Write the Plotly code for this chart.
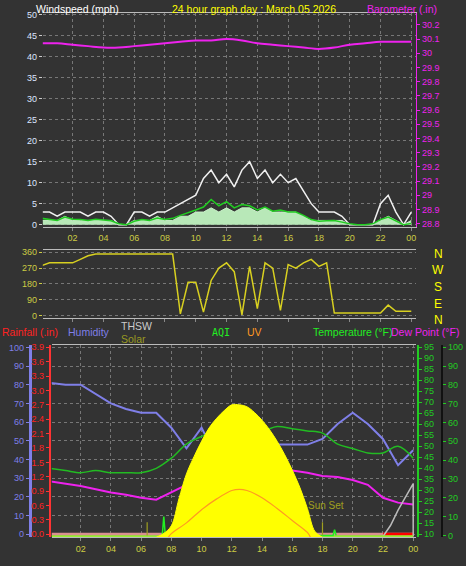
import plotly.graph_objects as go

W, H = 466, 566

# time grids (hours of day)
hours = list(range(25))
half_hours = [h / 2 for h in range(49)]

# barometer (in), hourly
baro = [30.07, 30.07, 30.06, 30.05, 30.04, 30.04, 30.05, 30.06, 30.07, 30.08, 30.09, 30.09,
        30.10, 30.09, 30.07, 30.06, 30.05, 30.04, 30.03, 30.04, 30.06, 30.07, 30.08, 30.08, 30.08]

# wind (mph), half-hourly
gust = [3, 3, 2, 3, 3, 3, 2, 3, 3, 2, 0, 0, 3, 3, 2, 3, 3, 4, 5, 6, 7, 11, 13, 10, 12,
        9, 13, 15, 11, 13, 10, 12, 10, 11, 8, 5, 3, 3, 3, 2, 0, 0, 0, 0, 5, 7, 3, 0, 3]
speed = [1, 1, 1, 2, 1, 1, 1, 1, 1, 1, 0, 0, 1, 1, 1, 2, 1, 1, 2, 2, 3, 3, 4, 3, 4,
         3, 4, 4, 3, 4, 3, 3, 3, 3, 2, 1, 1, 1, 1, 1, 0, 0, 0, 0, 1, 2, 1, 0, 1]
wind_avg = [1.5, 1.2, 1.0, 1.8, 1.3, 1.2, 1.0, 1.3, 1.1, 0.9, 0.2, 0.0, 0.8, 1.2, 1.0, 1.6,
            1.2, 1.5, 2.2, 2.8, 3.5, 4.2, 6.0, 4.5, 5.5, 4.0, 4.8, 4.5, 3.5, 4.2, 3.2, 3.5,
            3.0, 3.0, 2.2, 1.2, 0.8, 0.9, 1.0, 0.6, 0.2, 0.0, 0.0, 0.2, 1.2, 1.8, 0.8, 0.0, 0.3]

# wind direction (deg), half-hourly
wind_dir = [285, 300, 300, 300, 300, 320, 340, 350, 350, 350, 350, 350, 350, 350, 350, 350,
            350, 350, 10, 190, 190, 20, 200, 270, 300, 250, 5, 280, 40, 300, 270, 30,
            290, 270, 300, 320, 280, 300, 15, 15, 15, 15, 15, 15, 15, 60, 25, 25, 25]

# bottom panel, hourly
humidity = [81, 80, 80, 75, 70, 67, 65, 65, 57, 46, 57, 41, 51, 54, 49, 48, 48, 48, 51,
            59, 65, 59, 51, 37, 45]
temperature = [40, 39, 38, 39, 38, 38, 38, 40, 44.6, 51, 54.5, 57, 58, 58, 57, 59, 58, 57,
               56, 51, 49, 47, 47, 50, 44.6]
dew_point = [34, 33, 32, 30.5, 29, 28, 26.6, 25.7, 29, 32.5, 34.7, 31, 36.5, 37, 37, 38, 39,
             38, 36.5, 36, 34.7, 32.5, 26.6, 24.4, 23.5]

solar_t = [7.0, 7.5, 8.0, 8.5, 9.0, 9.5, 10.0, 10.5, 11.0, 11.5, 12.0, 12.5, 13.0, 13.5,
           14.0, 14.5, 15.0, 15.5, 16.0, 16.5, 17.0, 17.5, 18.0]
solar = [0, 20, 60, 200, 330, 420, 500, 570, 620, 660, 690, 690, 680, 650, 610, 560, 500,
         430, 350, 260, 150, 30, 0]
uv_t = [7.8, 8, 9, 10, 11, 12, 12.5, 13, 14, 15, 16, 17, 17.2]
uv = [0, 0.3, 1.2, 2.3, 3.2, 3.9, 4.0, 3.9, 3.3, 2.4, 1.4, 0.4, 0]
thsw_t = [22, 22.5, 23, 23.5, 24, 24]
thsw = [9, 14, 21, 27, 33, 9]
rain_t = [22, 24]
rain = [0, 0]
aqi_t = [7.4, 7.5, 7.6, 18.7, 18.8, 18.9]
aqi = [0, 10, 0, 0, 3, 0]
sunrise, sunset = 6.4, 18.0

BG = "#333333"
GRID = "#777777"
FONT = "Liberation Sans"


def px(l, r):
    return [l / W, r / W]


def py(top, bottom):
    return [1 - bottom / H, 1 - top / H]


fig = go.Figure()

# top panel: wind + barometer
fig.add_trace(go.Scatter(x=half_hours, y=speed, mode="lines", line=dict(color="#c8f0c8", width=1),
                         fill="tozeroy", fillcolor="#b8e8b8", xaxis="x", yaxis="y"))
fig.add_trace(go.Scatter(x=half_hours, y=gust, mode="lines", line=dict(color="#f0f0f0", width=1.5),
                         xaxis="x", yaxis="y"))
fig.add_trace(go.Scatter(x=half_hours, y=wind_avg, mode="lines", line=dict(color="#22cc22", width=1.5),
                         xaxis="x", yaxis="y"))
fig.add_trace(go.Scatter(x=hours, y=baro, mode="lines", line=dict(color="#ee22ee", width=2, shape="spline"),
                         xaxis="x", yaxis="y2"))

# direction panel
fig.add_trace(go.Scatter(x=half_hours, y=wind_dir, mode="lines", line=dict(color="#d8d020", width=1.5),
                         xaxis="x2", yaxis="y3"))

# bottom panel
fig.add_trace(go.Scatter(x=solar_t, y=solar, mode="lines", line=dict(color="#ffff00", width=1, shape="spline"),
                         fill="tozeroy", fillcolor="#ffff00", xaxis="x3", yaxis="y8"))
fig.add_trace(go.Scatter(x=uv_t, y=uv, mode="lines", line=dict(color="#ff9922", width=1.2, shape="spline"),
                         xaxis="x3", yaxis="y9"))
fig.add_trace(go.Scatter(x=hours, y=humidity, mode="lines", line=dict(color="#7f7fe8", width=2),
                         xaxis="x3", yaxis="y4"))
fig.add_trace(go.Scatter(x=hours, y=temperature, mode="lines", line=dict(color="#22bb22", width=1.5, shape="spline"),
                         xaxis="x3", yaxis="y6"))
fig.add_trace(go.Scatter(x=hours, y=dew_point, mode="lines", line=dict(color="#ee22ee", width=2),
                         xaxis="x3", yaxis="y6"))
fig.add_trace(go.Scatter(x=thsw_t, y=thsw, mode="lines", line=dict(color="#bbbbbb", width=1.5),
                         xaxis="x3", yaxis="y6"))
fig.add_trace(go.Scatter(x=[0, 24], y=[0, 0], mode="lines", line=dict(color="#d89090", width=3),
                         xaxis="x3", yaxis="y5"))
fig.add_trace(go.Scatter(x=rain_t, y=rain, mode="lines", line=dict(color="#ff0000", width=3),
                         xaxis="x3", yaxis="y5"))
fig.add_trace(go.Scatter(x=[0, 24], y=[-0.5, -0.5], mode="lines", line=dict(color="#99ee33", width=2),
                         xaxis="x3", yaxis="y7"))
fig.add_trace(go.Scatter(x=aqi_t, y=aqi, mode="lines", line=dict(color="#22ee22", width=1.5),
                         xaxis="x3", yaxis="y7"))
fig.add_trace(go.Scatter(x=[sunrise, sunrise, None, sunset, sunset], y=[0, 7, None, 0, 7], mode="lines",
                         line=dict(color="#a0a020", width=1.2), xaxis="x3", yaxis="y7"))

tickfont = dict(family=FONT, size=9)
xticks = dict(tickvals=list(range(2, 25, 2)),
              ticktext=["02", "04", "06", "08", "10", "12", "14", "16", "18", "20", "22", "00"])


def xax(dom, rng, anchor, labels=True, grid=True):
    return dict(domain=dom, range=rng, anchor=anchor, showgrid=grid, gridcolor=GRID, griddash="dot",
                zeroline=False, showline=True, linecolor="#bbbbbb", mirror=True, ticks="outside",
                ticklen=3, tickcolor="#888888", showticklabels=labels,
                tickfont=dict(tickfont, color="#cccc44"), **xticks)


fig.update_layout(
    width=W, height=H, autosize=False, margin=dict(l=0, r=0, t=0, b=0),
    paper_bgcolor=BG, plot_bgcolor=BG, showlegend=False,
    font=dict(family=FONT),
    xaxis=xax(px(43, 418), [0.065, 24.32], "y"),
    xaxis2=xax(px(43, 418), [0.065, 24.32], "y3", labels=False, grid=False),
    xaxis3=xax(px(52, 418), [0.09, 24.2], "y4"),
    yaxis=dict(domain=py(10, 226), range=[-0.47, 50.47], dtick=5, showgrid=True, gridcolor=GRID,
               griddash="dot", zeroline=False, ticks="outside", ticklen=3, tickcolor="#cccccc",
               tickfont=dict(tickfont, color="#dde6ff"), anchor="x"),
    yaxis2=dict(overlaying="y", side="right", range=[28.779, 30.284], dtick=0.1, showgrid=False,
                zeroline=False, ticks="outside", ticklen=3, tickcolor="#ee22ee", showline=True,
                linecolor="#ee22ee", tickfont=dict(tickfont, color="#ee22ee"), anchor="x"),
    yaxis3=dict(domain=py(250, 318), range=[-11, 371], tickvals=[0, 90, 180, 270, 360], showgrid=True,
                gridcolor=GRID, griddash="dot", zeroline=False, ticks="outside", ticklen=3,
                tickcolor="#cccc44", tickfont=dict(tickfont, color="#cccc44"), anchor="x2"),
    yaxis4=dict(domain=py(346, 540), range=[-1.6, 101.1], dtick=10, showgrid=True, gridcolor=GRID,
                griddash="dot", zeroline=False, anchor="free", position=30 / W, side="left",
                showline=True, linecolor="#7f7fe8", linewidth=3, ticks="outside", ticklen=3,
                tickcolor="#7f7fe8", tickfont=dict(tickfont, color="#7f7fe8")),
    yaxis5=dict(overlaying="y4", range=[-0.062, 3.94], dtick=0.3, tickformat=".1f", showgrid=False,
                zeroline=False, anchor="free", position=50 / W, side="left", showline=True,
                linecolor="#ff3333", linewidth=2, ticks="outside", ticklen=3, tickcolor="#ff3333",
                tickfont=dict(tickfont, color="#ff2222")),
    yaxis6=dict(overlaying="y4", range=[8.65, 95.9], dtick=5, showgrid=False, zeroline=False,
                anchor="free", position=420 / W, side="right", showline=True, linecolor="#22cc22",
                linewidth=2, ticks="outside", ticklen=3, tickcolor="#22cc22",
                tickfont=dict(tickfont, color="#22cc22")),
    yaxis7=dict(overlaying="y4", range=[-1, 101], dtick=10, showgrid=False, zeroline=False,
                anchor="free", position=444 / W, side="right", showline=True, linecolor="#111111",
                linewidth=2, ticks="outside", ticklen=3, tickcolor="#22cc22",
                tickfont=dict(tickfont, color="#22cc22")),
    yaxis8=dict(overlaying="y4", range=[0, 1000], visible=False),
    yaxis9=dict(overlaying="y4", range=[0, 16], visible=False),
)


def label(text, x, y, color, size=10.5, anchor="left", family=FONT):
    fig.add_annotation(text=text, x=x / W, y=1 - y / H, xref="paper", yref="paper", showarrow=False,
                       xanchor=anchor, yanchor="middle", font=dict(family=family, size=size, color=color))


label("Windspeed (mph)", 34, 6, "#ffffff")
label("24 hour graph day : March 05 2026", 255, 6, "#ffff00", anchor="center")
label("Barometer (.in)", 441, 6, "#ee22ee", anchor="right")
for name, y in zip(["N", "W", "S", "E", "N"], [254, 270, 287, 304, 320]):
    label(name, 440, y, "#ffff00", size=12, anchor="center")
label("Rainfall (.in)", 0, 333, "#ff2222", anchor="left")
label("Humidity", 66, 333, "#7f7fe8")
label("THSW", 120, 326, "#cccccc")
label("Solar", 120, 340, "#999922")
label("AQI", 211, 333, "#22ee22", size=10, family="DejaVu Sans Mono")
label("UV", 246, 333, "#ff9922")
label("Temperature (°F)", 312, 333, "#22ee22")
label("Dew Point (°F)", 463, 333, "#ee22ee", anchor="right")
fig.add_annotation(text="Sun Set", x=sunset + 0.2, y=12, xref="x3", yref="y7", showarrow=False,
                   xanchor="center", yanchor="bottom", font=dict(family=FONT, size=10, color="#a0a020"))

fig.write_html("out.html", config={"displayModeBar": False},
               post_script="document.body.style.margin='0';document.body.style.overflow='hidden';")
